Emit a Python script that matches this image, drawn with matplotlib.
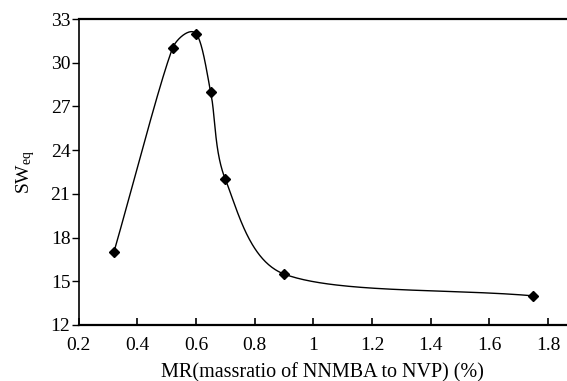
import numpy as np
import matplotlib
matplotlib.use("Agg")
import matplotlib.pyplot as plt

# Data
mr = [0.32, 0.52, 0.60, 0.65, 0.70, 0.90, 1.75]
sw = [17.0, 31.0, 32.0, 28.0, 22.0, 15.5, 14.0]
xticks = [0.2, 0.4, 0.6, 0.8, 1.0, 1.2, 1.4, 1.6, 1.8]
xticklabels = ["0.2", "0.4", "0.6", "0.8", "1", "1.2", "1.4", "1.6", "1.8"]
yticks = [12, 15, 18, 21, 24, 27, 30, 33]

plt.rcParams['font.family'] = ['Liberation Serif', 'DejaVu Serif']
plt.rcParams['mathtext.fontset'] = 'custom'
plt.rcParams['mathtext.rm'] = 'Liberation Serif'
plt.rcParams['mathtext.it'] = 'Liberation Serif'


def smooth_curve(P, n=80):
    """Smoothed line (Bezier through the points) computed in display space."""
    P = np.asarray(P, float)
    m = len(P)
    arms_out = []
    arms_in = []
    for i in range(m):
        if i == 0:
            cr = (P[1] - P[0]) / 3
        elif i == m - 1:
            cr = (P[-1] - P[-2]) / 3
        else:
            cr = (P[i + 1] - P[i - 1]) / 6
        d = cr / np.linalg.norm(cr)
        crl = np.linalg.norm(cr)
        Lout = np.linalg.norm(P[i + 1] - P[i]) / 3 if i < m - 1 else 0
        Lin = np.linalg.norm(P[i] - P[i - 1]) / 3 if i > 0 else 0
        arms_out.append(d * min(crl, Lout))
        arms_in.append(d * min(crl, Lin))
    out = [P[0]]
    for i in range(m - 1):
        p1, p2 = P[i], P[i + 1]
        c1 = p1 + arms_out[i]
        c2 = p2 - arms_in[i + 1]
        t = np.linspace(0, 1, n)[1:, None]
        b = ((1 - t) ** 3) * p1 + 3 * ((1 - t) ** 2) * t * c1 + 3 * (1 - t) * t ** 2 * c2 + t ** 3 * p2
        out.extend(b)
    return np.array(out)


fig = plt.figure(figsize=(5.67, 3.81), dpi=100)
ax = fig.add_axes([0.1388, 0.1470, 1 - 0.1388, 0.950 - 0.1470])
ax.set_xlim(0.2, 1.865)
ax.set_ylim(12, 33)

pts_disp = ax.transData.transform(np.column_stack([mr, sw]))
curve = ax.transData.inverted().transform(smooth_curve(pts_disp))
ax.plot(curve[:, 0], curve[:, 1], color='black', lw=1.0, zorder=2)
ax.plot(mr, sw, linestyle='none', marker='D', markersize=5.5, color='black', zorder=3)

ax.set_xticks(xticks)
ax.set_xticklabels(xticklabels)
ax.set_yticks(yticks)

ax.spines['right'].set_visible(False)
for s in ['top', 'bottom']:
    ax.spines[s].set_linewidth(1.6)
ax.spines['left'].set_linewidth(1.2)

ax.tick_params(axis='x', direction='in', length=5, width=1.2, labelsize=14, pad=9)
ax.tick_params(axis='y', direction='out', length=5, width=1.0, labelsize=14, pad=1)

ax.set_xlabel('MR(massratio of NNMBA to NVP) (%)', fontsize=14.5, labelpad=6)
ax.set_ylabel(r'SW$_{\mathrm{eq}}$', fontsize=14, labelpad=10)

fig.savefig('out.png', dpi=100)
